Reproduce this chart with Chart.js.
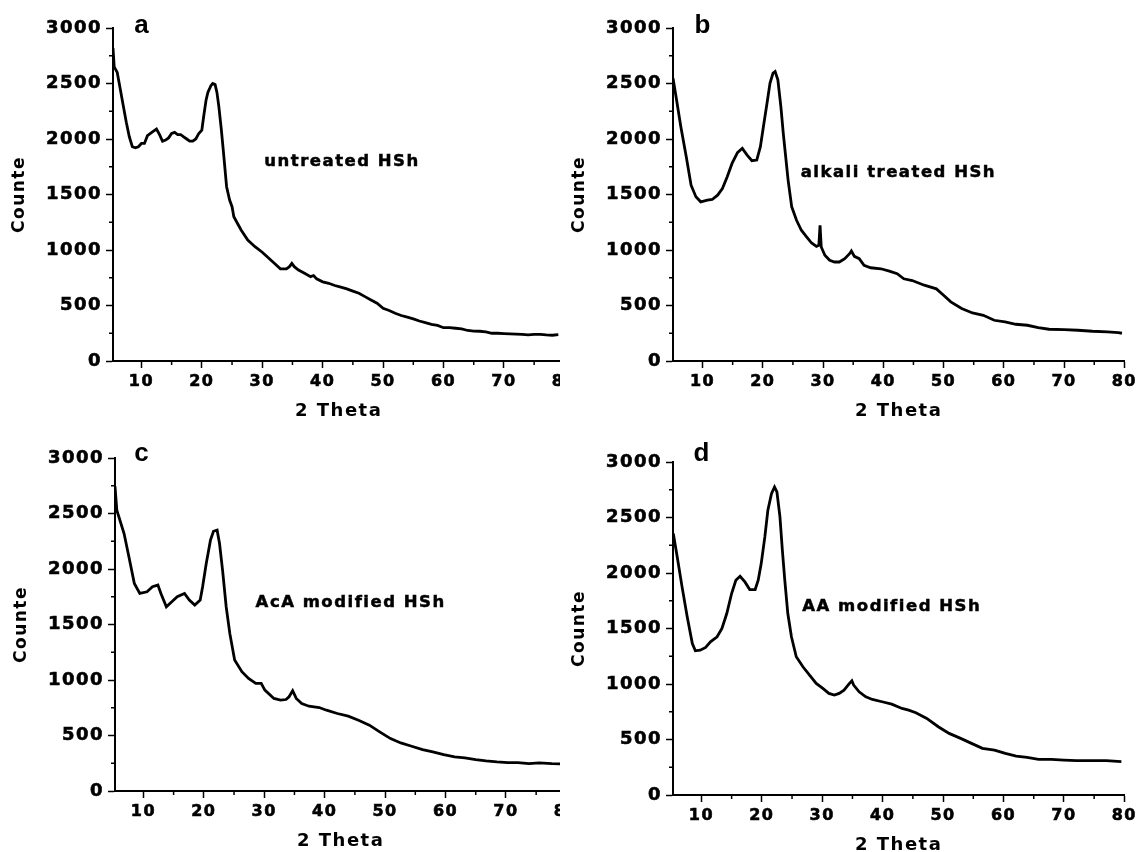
<!DOCTYPE html>
<html><head><meta charset="utf-8">
<script src="https://cdn.jsdelivr.net/npm/chart.js@4.4.1/dist/chart.umd.min.js"></script>
<style>
html,body{margin:0;padding:0;background:#fff;width:1141px;height:852px;overflow:hidden;position:relative;}
.clip{position:absolute;overflow:hidden;}
canvas{display:block;}
</style></head><body>
<div class="clip" style="left:0;top:0;width:560px;height:428px"><canvas id="ca" width="581" height="422" style="width:581px;height:422px"></canvas></div>
<div class="clip" style="left:560px;top:0;width:581px;height:428px"><canvas id="cb" width="581" height="422" style="width:581px;height:422px"></canvas></div>
<div class="clip" style="left:2px;top:430px;width:558px;height:422px"><canvas id="cc" width="581" height="422" style="width:581px;height:422px"></canvas></div>
<div class="clip" style="left:560px;top:434px;width:581px;height:418px"><canvas id="cd" width="581" height="422" style="width:581px;height:422px"></canvas></div>
<script>
// ---- tick values ----
const xTickValues = [10, 20, 30, 40, 50, 60, 70, 80];
const xMinorTicks = [15, 25, 35, 45, 55, 65, 75];
const yTickValues = [0, 500, 1000, 1500, 2000, 2500, 3000];
const yMinorTicks = [250, 750, 1250, 1750, 2250, 2750];

// ---- (a) untreated HSh ----
const thetaA = [5.3,5.5,6,6.5,7,7.5,8,8.5,9,9.5,10,10.5,11,11.5,12,12.5,13,13.5,14,14.5,15,15.5,16,16.5,17,17.5,18,18.5,19,19.5,20,20.3,20.7,21,21.5,21.8,22.2,22.5,22.8,23.2,23.5,24.1,24.6,25,25.3,26,26.5,27.6,28.8,30,31,32,33,34,34.5,34.9,35.3,36,37,38,38.5,39,40,41,42,43,44,45,46,47,48,49,50,51,52,53,54,55,56,57,58,59,60,61,62,63,64,65,66,67,68,69,70,71,72,73,74,75,76,77,78,79];
const countsA = [2820,2650,2600,2450,2300,2150,2020,1930,1920,1930,1960,1960,2030,2050,2070,2090,2040,1980,1990,2010,2050,2060,2040,2040,2020,2000,1980,1980,2000,2050,2080,2200,2350,2420,2480,2500,2490,2420,2300,2100,1930,1570,1450,1390,1300,1230,1180,1090,1030,980,930,880,830,830,850,880,850,820,790,760,770,740,713,700,680,665,650,630,610,580,550,520,475,455,430,410,395,380,360,345,330,320,300,300,295,290,275,270,268,262,250,250,247,245,243,240,235,240,240,235,232,238];

// ---- (b) alkali treated HSh ----
const thetaB = [5.1,5.6,6.4,7.3,8.1,8.9,9.7,10.8,11.6,12.5,13.3,14.1,14.9,15.8,16.6,17.4,18.2,19,19.6,20.1,20.7,21.2,21.7,22.05,22.5,23,23.4,23.8,24.2,24.8,25.6,26.4,27.3,28.1,28.9,29.3,29.5,29.7,30.3,31.1,31.9,32.7,33.6,34.4,34.7,35.2,36,36.8,37.9,39.6,41,42.3,43.4,44.8,46.8,48.8,50,51.2,53,54.8,56.6,58.4,60.2,62,63.9,65.7,67.5,70,72.3,74.7,77.2,79,79.6];
const countsB = [2548,2383,2111,1840,1584,1479,1434,1449,1455,1494,1554,1660,1780,1877,1916,1855,1804,1810,1931,2111,2322,2503,2593,2608,2533,2292,2051,1840,1630,1389,1268,1178,1117,1063,1033,1042,1223,1027,952,907,892,892,922,967,991,943,922,861,840,831,810,786,741,725,683,650,593,533,473,433,412,367,352,331,322,301,286,283,277,268,262,256,250];

// ---- (c) AcA modified HSh ----
const thetaC = [5.3,5.6,6.8,7.6,8.5,9.4,10.6,11.5,12.4,12.9,13.8,14.7,15.6,16.8,17.6,18.5,19.4,19.8,20.4,21.1,21.6,22.2,22.6,23.1,23.7,24.3,25.1,26.3,27.4,28.6,29.5,30.1,31.6,32.7,33.6,34.1,34.7,35.3,36.2,37.4,39.1,40.3,42.1,43.9,45.6,47.4,49.1,50.9,52.6,54.4,56.2,57.9,59.7,61.5,63.2,65,66.7,68.5,70.3,72,73.8,75.5,77.6,79];
const countsC = [2744,2530,2320,2110,1870,1780,1795,1840,1855,1780,1660,1705,1750,1780,1720,1675,1720,1840,2050,2260,2340,2350,2230,1990,1660,1420,1180,1075,1014,969,969,909,834,818,824,849,903,834,788,764,752,728,698,674,638,593,533,472,433,403,373,352,328,307,298,283,271,262,256,256,247,253,247,245];

// ---- (d) AA modified HSh ----
const thetaD = [5.35,6,6.8,7.65,8.5,9,9.8,10.7,11.5,12.6,13.4,14.2,15,15.7,16.4,17.2,18,18.9,19.4,19.9,20.5,21,21.6,22.1,22.5,23,23.4,23.8,24.3,24.9,25.7,26.8,27.9,29,30.1,31.1,32,32.8,33.6,34.4,34.9,35.2,36.1,37.2,38.3,39.9,41.5,43.2,44.3,45.5,47.3,49.2,51,52.9,54.7,56.5,58.5,60.3,62.1,63.9,65.8,67.9,70,72.1,74.6,77,79.5];
const countsD = [2355,2145,1875,1605,1365,1299,1305,1329,1380,1425,1500,1635,1815,1935,1971,1920,1851,1851,1935,2085,2325,2565,2715,2775,2730,2505,2205,1935,1635,1425,1245,1155,1080,1005,960,915,900,915,945,999,1029,990,930,885,861,840,819,780,765,741,690,615,555,510,465,420,405,375,351,339,321,321,315,309,309,309,300];

const Y_MIN = 0, Y_MAX = 3000, X_MAX = 80;

const spacingPlugin = {
  id: 'spacing',
  beforeLayout(chart) { chart.ctx.letterSpacing = '1.5px'; },
  beforeDraw(chart) { chart.ctx.letterSpacing = '1.5px'; }
};

const minorTicksPlugin = {
  id: 'minorTicks',
  afterDraw(chart) {
    const {ctx, chartArea, scales: {x, y}} = chart;
    ctx.save();
    ctx.strokeStyle = '#000';
    ctx.lineWidth = 1.5;
    ctx.beginPath();
    xMinorTicks.forEach(v => {
      const px = x.getPixelForValue(v);
      ctx.moveTo(px, chartArea.bottom);
      ctx.lineTo(px, chartArea.bottom + 4);
    });
    yMinorTicks.forEach(v => {
      const py = y.getPixelForValue(v);
      ctx.moveTo(chartArea.left, py);
      ctx.lineTo(chartArea.left - 4, py);
    });
    ctx.stroke();
    ctx.restore();
  }
};

const panelTextPlugin = {
  id: 'panelText',
  afterDraw(chart, args, opts) {
    const {ctx, scales: {x, y}} = chart;
    ctx.save();
    ctx.fillStyle = '#000';
    ctx.strokeStyle = '#000';
    ctx.letterSpacing = '0px';
    ctx.font = 'bold 26px "Liberation Sans", Arial, sans-serif';
    ctx.textAlign = 'center';
    ctx.textBaseline = 'alphabetic';
    ctx.fillText(opts.letter, x.getPixelForValue(opts.letterAt[0]), y.getPixelForValue(opts.letterAt[1]));
    ctx.letterSpacing = '1.5px';
    ctx.font = 'bold 16.5px "DejaVu Sans"';
    ctx.textBaseline = 'middle';
    ctx.lineWidth = 0.5;
    const lx = x.getPixelForValue(opts.labelAt[0]), ly = y.getPixelForValue(opts.labelAt[1]);
    ctx.fillText(opts.label, lx, ly);
    ctx.strokeText(opts.label, lx, ly);
    ctx.restore();
  }
};

function makeChart(id, xMin, xs, ys, letter, letterAt, label, labelAt) {
  const pts = xs.map((v, i) => ({x: v, y: ys[i]}));
  return new Chart(document.getElementById(id), {
    type: 'line',
    data: {datasets: [{data: pts, borderColor: '#000', borderWidth: 2.8, pointRadius: 0, tension: 0, fill: false}]},
    options: {
      responsive: false,
      animation: false,
      events: [],
      layout: {padding: {top: 28, right: 14, bottom: 0, left: 0}},
      plugins: {
        legend: {display: false},
        tooltip: {enabled: false},
        panelText: {letter, letterAt, label, labelAt}
      },
      scales: {
        x: {
          type: 'linear', position: 'bottom', min: xMin, max: X_MAX,
          afterBuildTicks: s => { s.ticks = xTickValues.map(v => ({value: v})); },
          afterFit: s => { s.height = 61; },
          border: {display: true, color: '#000', width: 2},
          grid: {drawOnChartArea: false, drawTicks: true, tickLength: 7, tickWidth: 1.5, tickColor: '#000'},
          ticks: {color: '#000', font: {family: 'DejaVu Sans', weight: 'bold', size: 16}, padding: 4, maxRotation: 0, autoSkip: false, callback: v => String(v), textStrokeColor: '#000', textStrokeWidth: 0.6},
          title: {display: true, text: '2 Theta', color: '#000', font: {family: 'DejaVu Sans', weight: 'bold', size: 18}, padding: 0}
        },
        y: {
          type: 'linear', position: 'left', min: Y_MIN, max: Y_MAX,
          afterBuildTicks: s => { s.ticks = yTickValues.map(v => ({value: v})); },
          afterFit: s => { s.width = 113; },
          border: {display: true, color: '#000', width: 2},
          grid: {drawOnChartArea: false, drawTicks: true, tickLength: 7, tickWidth: 1.5, tickColor: '#000'},
          ticks: {color: '#000', font: {family: 'DejaVu Sans', weight: 'bold', size: 18}, padding: 4, callback: v => String(v), textStrokeColor: '#000', textStrokeWidth: 0.6},
          title: {display: true, text: 'Counte', color: '#000', font: {family: 'DejaVu Sans', weight: 'bold', size: 17}, padding: {top: 9, bottom: 0}}
        }
      }
    },
    plugins: [spacingPlugin, minorTicksPlugin, panelTextPlugin]
  });
}

makeChart('ca', 5.3, thetaA, countsA, 'a', [10, 2955], 'untreated HSh', [43.2, 1793]);
makeChart('cb', 5.1, thetaB, countsB, 'b', [10, 2955], 'alkali treated HSh', [42.5, 1694]);
makeChart('cc', 5.3, thetaC, countsC, 'c', [9.7, 2973], 'AcA modified HSh', [44.3, 1694]);
makeChart('cd', 5.3, thetaD, countsD, 'd', [10, 3009], 'AA modified HSh', [41.5, 1694]);
</script>
</body></html>
